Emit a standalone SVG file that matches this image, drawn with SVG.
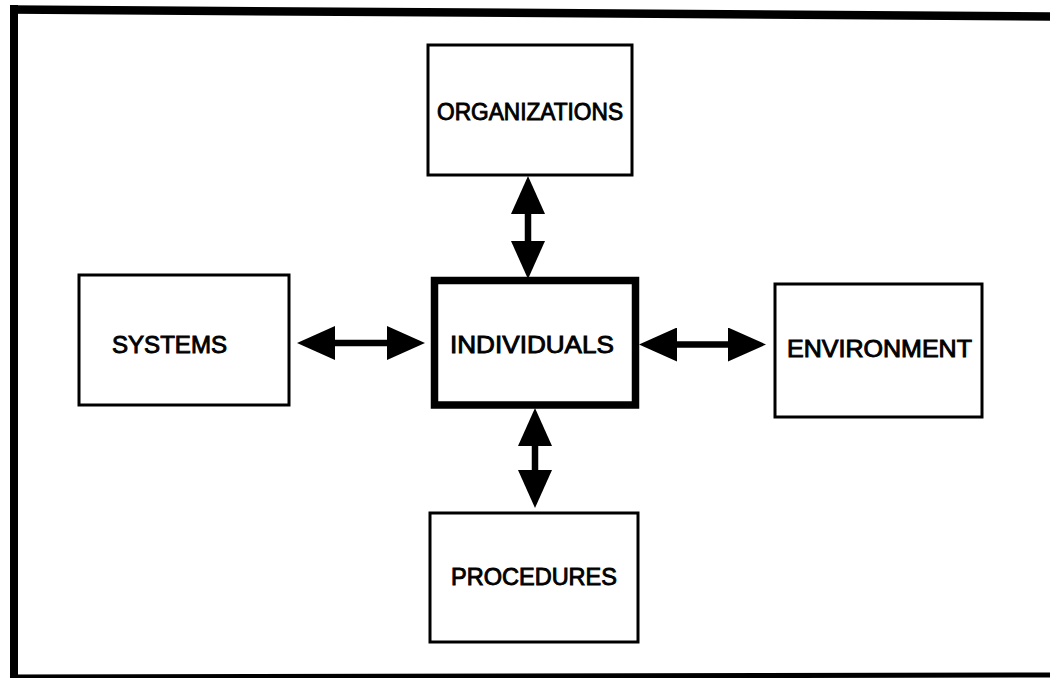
<svg xmlns="http://www.w3.org/2000/svg" width="1050" height="678" viewBox="0 0 1050 678">
<style>
.box{fill:#fff;stroke:#000;stroke-width:3}
.main{fill:#fff;stroke:#000;stroke-width:7.5}
.lbl{font-family:"Liberation Sans",Arial,Helvetica,sans-serif;font-size:23.5px;fill:#000;text-anchor:middle;stroke:#000;stroke-width:0.9}
.shaft{stroke:#000;stroke-width:6.5;fill:none;marker-start:url(#head);marker-end:url(#head)}
.frame{stroke:#000;fill:none}
</style>
<defs>
<marker id="head" viewBox="0 -17 38 34" markerWidth="38" markerHeight="34" refX="0" refY="0" orient="auto-start-reverse" markerUnits="userSpaceOnUse">
<path d="M0,-17 L38,0 L0,17 Z" fill="#000"/>
</marker>
</defs>
<rect width="1050" height="678" fill="#fff"/>
<g id="frame">
<path class="frame" d="M10,9.5 L1055,16.5" stroke-width="8.5"/>
<path class="frame" d="M14,5 L14,680" stroke-width="8"/>
<path class="frame" d="M10,677 L1055,675" stroke-width="5"/>
</g>
<g id="connectors">
<line class="shaft" x1="335" y1="343" x2="387" y2="343"/>
<line class="shaft" x1="677" y1="344.5" x2="728" y2="344.5"/>
<line class="shaft" x1="528" y1="214" x2="528" y2="241"/>
<line class="shaft" x1="535" y1="446" x2="535" y2="470"/>
</g>
<g id="organizations">
<rect class="box" x="428" y="45" width="204" height="130"/>
<text class="lbl" x="530" y="120" textLength="186" lengthAdjust="spacingAndGlyphs">ORGANIZATIONS</text>
</g>
<g id="systems">
<rect class="box" x="79" y="275" width="210" height="130"/>
<text class="lbl" x="169.5" y="353" textLength="115" lengthAdjust="spacingAndGlyphs">SYSTEMS</text>
</g>
<g id="individuals">
<rect class="main" x="434.5" y="280.5" width="201" height="124.5"/>
<text class="lbl" x="532" y="353" textLength="164" lengthAdjust="spacingAndGlyphs">INDIVIDUALS</text>
</g>
<g id="environment">
<rect class="box" x="775" y="284" width="207" height="133"/>
<text class="lbl" x="879.5" y="357" textLength="185" lengthAdjust="spacingAndGlyphs">ENVIRONMENT</text>
</g>
<g id="procedures">
<rect class="box" x="430" y="513" width="208" height="129"/>
<text class="lbl" x="534" y="585" textLength="166" lengthAdjust="spacingAndGlyphs">PROCEDURES</text>
</g>
</svg>
